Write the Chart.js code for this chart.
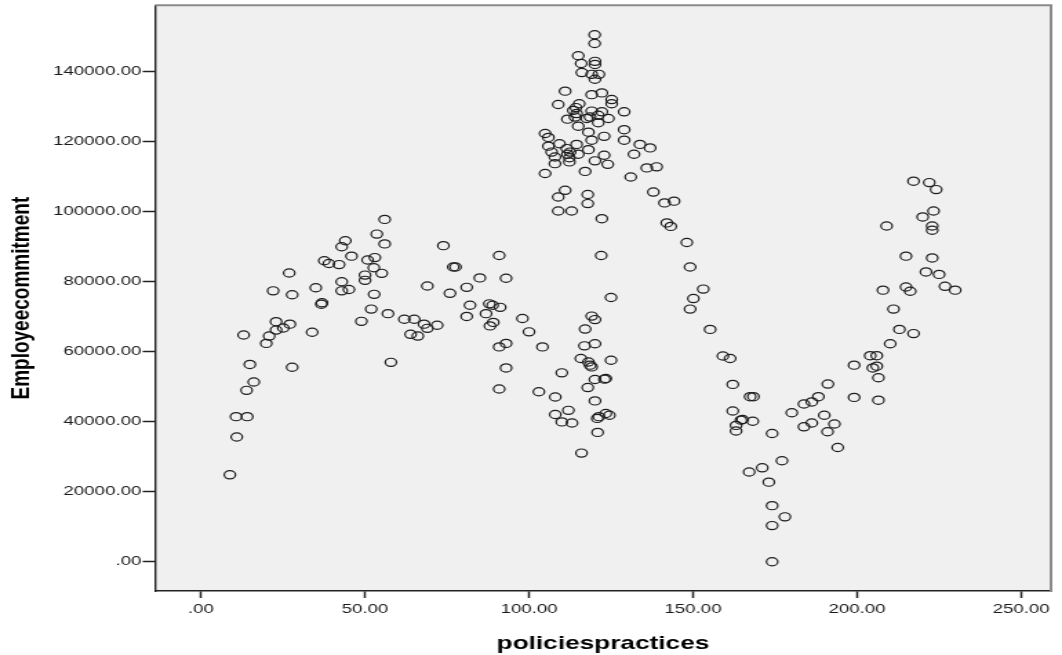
<!DOCTYPE html>
<html lang="en">
<head>
<meta charset="UTF-8">
<title>policiespractices / Employeecommitment</title>
<script src="https://cdn.jsdelivr.net/npm/chart.js"></script>
<style>
  html, body { margin: 0; padding: 0; background: #fff; overflow: hidden; }
  /* SPSS export is wider than it is tall: draw narrow, then stretch horizontally */
  #wrap { width: 770px; height: 655px; transform: scaleX(1.37922); transform-origin: 0 0; }
</style>
</head>
<body>
<div id="wrap"><canvas id="scatter" width="770" height="655"></canvas></div>
<script>
// x: policiespractices, y: Employeecommitment (one entry per case)
const policies = [
  44.0, 42.9, 45.9, 37.6, 39.0, 42.1, 50.8, 53.0, 53.6, 52.7,
  50.0, 50.0, 26.9, 22.0, 27.8, 35.0, 42.9, 42.9, 45.1, 36.7,
  36.9, 52.8, 51.9, 48.9, 22.9, 27.1, 25.1, 22.9, 20.8, 19.9,
  13.0, 33.9, 14.9, 27.8, 16.1, 13.9, 10.7, 14.1, 10.9, 8.8,
  56.0, 56.0, 55.1, 57.0, 57.9, 73.9, 76.9, 77.6, 69.0, 75.9,
  81.0, 85.0, 90.9, 93.0, 82.0, 81.0, 87.9, 88.9, 91.2, 86.9,
  89.1, 88.1, 98.0, 100.0, 104.1, 62.0, 65.0, 68.0, 69.0, 72.0,
  63.9, 66.1, 90.9, 93.0, 93.0, 90.9, 103.0,
  110.0, 108.0, 108.0, 112.0, 110.0, 113.1, 116.0, 122.0, 125.0, 119.1,
  120.1, 117.1, 116.9, 120.1, 115.8, 118.1, 119.1, 118.6, 125.0, 120.1,
  123.0, 123.4, 117.9, 120.1, 120.8, 121.3, 123.4, 124.5, 120.9,
  120.0, 120.0, 115.0, 115.9, 120.1, 120.1, 116.1, 119.1, 121.3, 120.1,
  111.0, 119.1, 122.2, 125.2, 125.2, 108.9, 115.3, 114.3, 113.5, 129.0,
  114.5, 119.1, 122.2, 114.0, 121.1, 118.6, 111.7, 117.6, 124.2, 121.1,
  115.0, 118.1, 129.0, 104.9, 105.9, 122.9, 129.0, 119.1, 114.5, 109.3,
  105.9, 133.8, 136.9, 111.5, 112.5, 106.9, 118.1, 111.7, 115.0, 132.0,
  107.9, 112.3, 122.9, 107.9, 112.3, 120.1, 124.0, 104.9, 117.1, 135.9,
  138.9, 131.0, 111.0, 108.9, 117.9, 117.9, 108.9, 113.0, 122.2, 137.9,
  141.3, 144.2, 142.0, 143.2, 148.1, 149.1, 153.1, 150.1, 149.1, 155.2,
  159.1, 161.3, 162.1, 167.4, 168.4,
  162.1, 165.1, 168.2, 163.1, 163.1, 164.6, 174.1, 180.1, 183.8, 186.2,
  188.2, 191.1, 183.8, 186.2, 190.0, 193.1, 191.0, 194.1, 199.1, 199.1,
  204.0, 206.0, 204.8, 206.0, 206.5, 206.5, 177.1, 167.1, 171.1, 173.1,
  174.1, 178.0, 174.1, 174.1,
  217.2, 222.0, 224.1, 223.3, 220.0, 222.9, 222.9, 209.0, 214.9, 222.9,
  221.0, 225.0, 226.8, 229.9, 207.9, 214.9, 216.2, 211.1, 212.9, 217.2,
  210.1
];
const commitment = [
  91600, 89900, 87200, 85900, 85100, 84800, 86100, 86800, 93500, 83900,
  81800, 80300, 82400, 77300, 76200, 78200, 79900, 77300, 77700, 73500,
  73900, 76300, 72100, 68600, 68500, 67800, 66700, 66100, 64400, 62300,
  64700, 65500, 56300, 55500, 51300, 48900, 41400, 41400, 35600, 24800,
  97700, 90700, 82300, 70800, 56900, 90200, 84100, 84100, 78700, 76600,
  78300, 81000, 87400, 80900, 73200, 70000, 73600, 73200, 72600, 70800,
  68300, 67300, 69400, 65600, 61300, 69200, 69200, 67800, 66600, 67500,
  64900, 64400, 61300, 62300, 55300, 49300, 48500,
  53900, 47000, 42000, 43200, 39900, 39600, 31000, 87400, 75400, 70100,
  69100, 66400, 61600, 62200, 58000, 57000, 55600, 56100, 57500, 52000,
  52100, 52300, 49700, 45900, 40900, 41400, 42300, 41800, 36900,
  150400, 147900, 144400, 142200, 142800, 141900, 139600, 139100, 139100, 137700,
  134300, 133300, 133800, 131900, 130700, 130500, 130700, 129600, 128800, 128400,
  127900, 128600, 128400, 126900, 127400, 126900, 126300, 126500, 126500, 125300,
  124300, 122600, 123300, 122200, 121100, 121400, 120300, 120300, 119100, 119300,
  118600, 119100, 118100, 117900, 116900, 116900, 117600, 116300, 116300, 116300,
  115500, 115300, 116000, 113600, 114100, 114400, 113400, 110800, 111400, 112400,
  112700, 109800, 106000, 104100, 104800, 102200, 100100, 100100, 97900, 105500,
  102400, 102900, 96700, 95700, 91100, 84100, 77800, 75100, 72100, 66300,
  58700, 58000, 50600, 47100, 47100,
  43000, 40600, 40100, 38900, 37300, 40400, 36600, 42500, 45000, 45600,
  47100, 50700, 38500, 39600, 41800, 39300, 37100, 32600, 56100, 46900,
  58800, 58800, 55300, 55800, 52500, 46100, 28800, 25600, 26800, 22700,
  16000, 12800, 10300, 0,
  108600, 108200, 106200, 100100, 98400, 95800, 94600, 95800, 87200, 86700,
  82700, 82000, 78600, 77500, 77500, 78400, 77200, 72100, 66300, 65100,
  62200
];

const xTicks = [0, 50, 100, 150, 200, 250];
const yTicks = [0, 20000, 40000, 60000, 80000, 100000, 120000, 140000];
const xTitle = 'policiespractices';
const yTitle = 'Employeecommitment';

// SPSS style labels: 0 -> ".00", 50 -> "50.00"
function fmt(v) {
    const s = Number(v).toFixed(2);
    return s.startsWith('0.') ? s.slice(1) : s;
}

// grey plot background plus the light frame on top/right
const plotFrame = {
    id: 'plotFrame',
    beforeDraw(chart) {
        const { ctx, chartArea: a } = chart;
        ctx.save();
        ctx.fillStyle = '#f0f0f0';
        ctx.fillRect(a.left, a.top, a.right - a.left, a.bottom - a.top);
        ctx.restore();
    },
    afterDraw(chart) {
        const { ctx, chartArea: a } = chart;
        ctx.save();
        ctx.strokeStyle = '#8a8a8a';
        ctx.lineWidth = 2;
        ctx.beginPath();
        ctx.moveTo(a.left, a.top);
        ctx.lineTo(a.right, a.top);
        ctx.lineTo(a.right, a.bottom);
        ctx.stroke();
        ctx.restore();
    }
};

const tickFont = { family: '"Liberation Sans", Arial, sans-serif', size: 13.5 };
const titleFont = { family: '"Liberation Sans", Arial, sans-serif', size: 19, weight: 'bold' };

new Chart(document.getElementById('scatter'), {
    type: 'scatter',
    data: {
        datasets: [{
            data: policies.map((x, i) => ({ x: x, y: commitment[i] })),
            pointStyle: 'circle',
            pointRadius: 4.1,
            pointHoverRadius: 4.1,
            borderWidth: 1.2,
            borderColor: '#1e1e1e',
            backgroundColor: 'rgba(0,0,0,0)'
        }]
    },
    options: {
        responsive: false,
        animation: false,
        events: [],
        layout: { padding: { top: 5, right: 8, left: 0, bottom: 0 } },
        plugins: {
            legend: { display: false },
            tooltip: { enabled: false }
        },
        scales: {
            x: {
                type: 'linear',
                min: -14.0,
                max: 259.1,
                afterFit(scale) {
                    scale.height = 64;
                    scale.paddingLeft = 0;
                    scale.paddingRight = 0;
                },
                afterBuildTicks(scale) { scale.ticks = xTicks.map(v => ({ value: v })); },
                grid: { drawOnChartArea: false, drawTicks: true, tickLength: 7, tickWidth: 1.5, color: '#222', tickColor: '#222' },
                border: { display: true, color: '#222', width: 1.4 },
                ticks: { callback: fmt, font: tickFont, color: '#1a1a1a', padding: 3, maxRotation: 0 },
                title: { display: true, text: xTitle, font: titleFont, color: '#000', padding: { top: 0, bottom: 0 } }
            },
            y: {
                type: 'linear',
                min: -8360,
                max: 158800,
                afterFit(scale) {
                    scale.width = 112.4;
                    scale.paddingTop = 0;
                    scale.paddingBottom = 0;
                },
                afterBuildTicks(scale) { scale.ticks = yTicks.map(v => ({ value: v })); },
                grid: { drawOnChartArea: false, drawTicks: true, tickLength: 9, tickWidth: 1.5, color: '#222', tickColor: '#222' },
                border: { display: true, color: '#222', width: 1.4 },
                ticks: { callback: fmt, font: tickFont, color: '#1a1a1a', padding: 1 },
                title: { display: true, text: yTitle, font: titleFont, color: '#000', padding: { top: 4.6, bottom: 0 } }
            }
        }
    },
    plugins: [plotFrame]
});
</script>
</body>
</html>
